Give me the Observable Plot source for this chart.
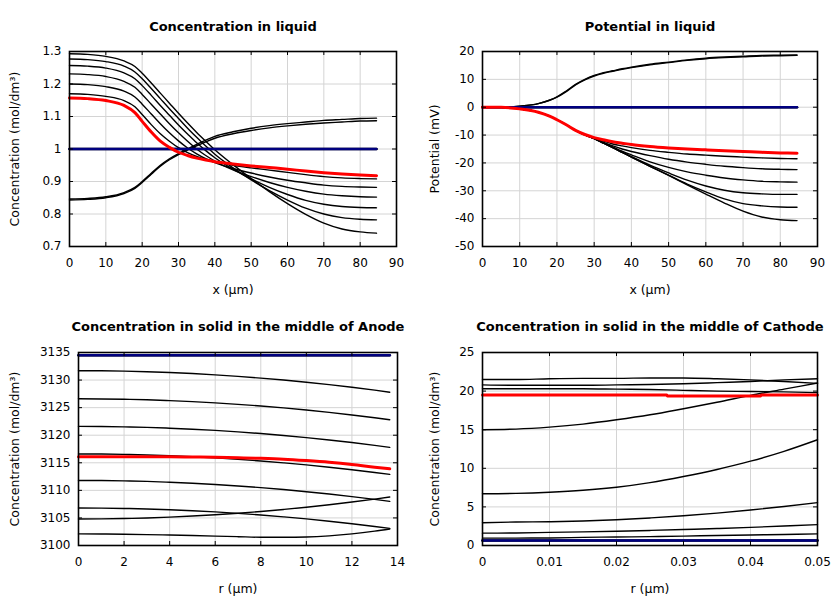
<!DOCTYPE html>
<html><head><meta charset="utf-8">
<script src="https://cdn.jsdelivr.net/npm/d3@7"></script>
<script src="https://cdn.jsdelivr.net/npm/@observablehq/plot@0.6"></script>
<style>
body{margin:0;background:#fff;}
#wrap{position:relative;width:840px;height:600px;overflow:hidden;}
#wrap svg{position:absolute;}
</style></head><body><div id="wrap"></div>
<script>
// ---------- Panel 1: Concentration in liquid ----------
const liqX = [0,5,10,15,18,20,22.5,25,27.5,30,32.5,35,37.5,40,45,50,55,60,65,70,75,80,84.5];
const liqRed = [1.157,1.155,1.149,1.134,1.112,1.085,1.052,1.024,1.005,0.990,0.980,0.972,0.966,0.961,0.954,0.948,0.943,0.938,0.932,0.927,0.923,0.920,0.918];
const liqBlack = [
  [1.170,1.168,1.162,1.149,1.130,1.106,1.075,1.047,1.024,1.004,0.989,0.977,0.968,0.961,0.950,0.942,0.935,0.928,0.921,0.915,0.911,0.909,0.908],
  [1.200,1.198,1.192,1.178,1.160,1.138,1.108,1.078,1.050,1.025,1.003,0.985,0.970,0.958,0.940,0.926,0.914,0.904,0.896,0.889,0.885,0.883,0.882],
  [1.231,1.229,1.223,1.208,1.190,1.168,1.138,1.108,1.078,1.050,1.024,1.000,0.980,0.963,0.936,0.915,0.897,0.882,0.870,0.861,0.856,0.853,0.852],
  [1.257,1.255,1.249,1.234,1.216,1.195,1.165,1.134,1.104,1.074,1.046,1.019,0.995,0.973,0.938,0.908,0.882,0.860,0.842,0.830,0.823,0.820,0.819],
  [1.277,1.275,1.269,1.255,1.237,1.216,1.186,1.155,1.124,1.094,1.064,1.036,1.009,0.984,0.942,0.905,0.872,0.843,0.818,0.800,0.789,0.784,0.782],
  [1.293,1.291,1.285,1.271,1.254,1.233,1.203,1.172,1.141,1.110,1.080,1.051,1.024,0.998,0.952,0.909,0.869,0.832,0.799,0.772,0.754,0.745,0.741],
  [0.846,0.848,0.853,0.866,0.882,0.900,0.925,0.950,0.970,0.986,1.000,1.014,1.027,1.039,1.053,1.064,1.072,1.078,1.083,1.088,1.091,1.094,1.095],
  [0.843,0.845,0.850,0.863,0.879,0.897,0.922,0.947,0.967,0.983,0.997,1.010,1.022,1.033,1.047,1.057,1.065,1.071,1.076,1.080,1.083,1.086,1.087]
];
const liqFlatX = [0, 84.5];
const liqFlat = [1.0, 1.0];
const liqXTicks = [0,10,20,30,40,50,60,70,80,90];
const liqYTicks = [0.7,0.8,0.9,1,1.1,1.2,1.3];

// ---------- Panel 2: Potential in liquid ----------
const potX = liqX;
const potRed = [0,-0.05,-0.6,-1.8,-3.2,-4.5,-6.3,-8.3,-9.8,-10.9,-11.7,-12.4,-12.9,-13.4,-14.1,-14.6,-15.0,-15.3,-15.6,-15.9,-16.2,-16.4,-16.5];
const potBlack = [
  [0,-0.05,-0.6,-1.8,-3.2,-4.5,-6.3,-8.3,-9.9,-11.0,-12.2,-13.2,-13.9,-14.5,-15.5,-16.2,-16.8,-17.2,-17.6,-17.9,-18.2,-18.4,-18.5],
  [0,-0.05,-0.6,-1.8,-3.2,-4.5,-6.3,-8.3,-9.9,-11.1,-12.6,-13.9,-15.0,-15.9,-17.4,-18.7,-19.7,-20.5,-21.2,-21.7,-22.1,-22.3,-22.4],
  [0,-0.05,-0.6,-1.8,-3.2,-4.5,-6.3,-8.3,-9.9,-11.2,-12.8,-14.3,-15.8,-17.1,-19.6,-21.6,-23.2,-24.4,-25.4,-26.1,-26.6,-26.8,-26.9],
  [0,-0.05,-0.6,-1.8,-3.2,-4.5,-6.3,-8.3,-9.9,-11.3,-12.9,-14.5,-16.1,-17.7,-20.8,-23.6,-26.2,-28.3,-29.8,-30.7,-31.1,-31.3,-31.3],
  [0,-0.05,-0.6,-1.8,-3.2,-4.5,-6.3,-8.3,-9.9,-11.3,-12.9,-14.5,-16.2,-17.9,-21.2,-24.4,-27.6,-30.4,-32.9,-34.6,-35.4,-35.8,-35.9],
  [0,-0.05,-0.6,-1.8,-3.2,-4.5,-6.3,-8.3,-9.9,-11.3,-12.9,-14.5,-16.2,-17.9,-21.2,-24.5,-27.9,-31.2,-34.4,-37.3,-39.4,-40.4,-40.7],
  [0,0.05,0.4,1.3,2.5,3.7,5.8,8.2,10.0,11.4,12.4,13.1,13.8,14.4,15.4,16.2,17.0,17.6,18.0,18.3,18.6,18.7,18.8],
  [0,0.05,0.4,1.3,2.5,3.6,5.6,8.0,9.8,11.2,12.2,12.9,13.6,14.2,15.2,16.0,16.8,17.4,17.8,18.1,18.4,18.5,18.6]
];
const potFlatX = [0, 84.5];
const potFlat = [0, 0];
const potXTicks = [0,10,20,30,40,50,60,70,80,90];
const potYTicks = [-50,-40,-30,-20,-10,0,10,20];

// ---------- Panel 3: Concentration in solid, Anode ----------
const anoX = [0,1,2,3,4,5,6,7,8,9,10,11,12,13,13.66];
const anoRed = [3116.1,3116.1,3116.1,3116.1,3116.1,3116.05,3116.0,3115.9,3115.8,3115.65,3115.4,3115.1,3114.7,3114.2,3113.9];
const anoBlack = [
  [3131.7,3131.68,3131.62,3131.51,3131.37,3131.18,3130.95,3130.67,3130.36,3130.01,3129.61,3129.17,3128.69,3128.17,3127.8],
  [3126.6,3126.58,3126.52,3126.42,3126.27,3126.09,3125.87,3125.6,3125.3,3124.95,3124.56,3124.14,3123.67,3123.16,3122.8],
  [3121.6,3121.58,3121.52,3121.42,3121.27,3121.09,3120.87,3120.6,3120.3,3119.95,3119.56,3119.14,3118.67,3118.16,3117.8],
  [3116.6,3116.58,3116.52,3116.42,3116.28,3116.1,3115.89,3115.63,3115.33,3114.99,3114.62,3114.2,3113.74,3113.25,3112.9],
  [3111.8,3111.78,3111.72,3111.62,3111.47,3111.29,3111.07,3110.8,3110.5,3110.15,3109.76,3109.34,3108.87,3108.36,3108.0],
  [3106.8,3106.78,3106.72,3106.62,3106.48,3106.3,3106.09,3105.83,3105.53,3105.19,3104.82,3104.4,3103.94,3103.45,3103.1],
  [3104.8,3104.82,3104.89,3104.99,3105.14,3105.34,3105.57,3105.85,3106.17,3106.54,3106.94,3107.39,3107.89,3108.42,3108.8],
  [3102.1,3102.08,3102.05,3101.98,3101.9,3101.8,3101.7,3101.6,3101.5,3101.5,3101.55,3101.75,3102.1,3102.6,3103.0]
];
const anoFlatX = [0, 13.66];
const anoFlat = [3134.5, 3134.5];
const anoXTicks = [0,2,4,6,8,10,12,14];
const anoYTicks = [3100,3105,3110,3115,3120,3125,3130,3135];

// ---------- Panel 4: Concentration in solid, Cathode ----------
const catX = [0,0.005,0.01,0.015,0.02,0.025,0.03,0.035,0.04,0.045,0.05];
const catBlack = [
  [21.5,21.5,21.6,21.65,21.65,21.7,21.7,21.6,21.45,21.25,21.0],
  [20.8,20.75,20.75,20.75,20.8,20.85,20.95,21.1,21.25,21.45,21.6],
  [20.3,20.3,20.3,20.3,20.25,20.2,20.1,20.0,19.95,19.9,19.8],
  [15.0,15.08,15.33,15.72,16.28,16.93,17.72,18.55,19.45,20.25,21.05],
  [6.7,6.75,6.9,7.15,7.55,8.15,8.94,9.85,10.92,12.2,13.7],
  [2.95,3.05,3.08,3.17,3.33,3.57,3.85,4.2,4.6,5.05,5.55],
  [1.6,1.62,1.7,1.76,1.85,1.95,2.07,2.2,2.35,2.52,2.7],
  [0.95,0.96,0.98,1.05,1.1,1.15,1.22,1.29,1.36,1.43,1.51]
];
const catRedX = [0,0.0275,0.0276,0.0415,0.0416,0.05];
const catRed = [19.5,19.5,19.35,19.35,19.5,19.5];
const catFlatX = [0, 0.05];
const catFlat = [0.65, 0.65];
const catXTicks = [0,0.01,0.02,0.03,0.04,0.05];
const catYTicks = [0,5,10,15,20,25];

// ---------- helpers ----------
const GRID = "#d4d4d4";
const fmt = d => String(d);
function rows(xs, ys, id) { return xs.map((x, i) => ({x, y: ys[i], id})); }

function panel(cfg) {
  const W = 420, H = 300;
  const fw = W - cfg.mL - cfg.mR, fh = H - cfg.mT - cfg.mB;
  const blackRows = cfg.black.flatMap((ys, k) => rows(cfg.xs, ys, k));
  const flatRows = rows(cfg.flatX, cfg.flat, "flat");
  const redRows = rows(cfg.redX, cfg.red, "red");
  const svg = Plot.plot({
    width: W, height: H,
    marginLeft: cfg.mL, marginRight: cfg.mR, marginTop: cfg.mT, marginBottom: cfg.mB,
    x: {domain: cfg.xDom}, y: {domain: cfg.yDom},
    style: {fontFamily: "DejaVu Sans", fontSize: "12px", color: "black", background: "white"},
    marks: [
      Plot.ruleX(cfg.xTicks, {x: d => d, stroke: GRID, strokeWidth: 1}),
      Plot.ruleY(cfg.yTicks, {y: d => d, stroke: GRID, strokeWidth: 1}),
      Plot.line(flatRows, {x: "x", y: "y", stroke: "black", strokeWidth: 2.6}),
      Plot.line(blackRows, {x: "x", y: "y", z: "id", stroke: "black", strokeWidth: 1.4, curve: cfg.curve}),
      Plot.line(flatRows, {x: "x", y: "y", stroke: "#00007f", strokeWidth: 2.4}),
      Plot.line(redRows, {x: "x", y: "y", stroke: "#ff0000", strokeWidth: 3, curve: cfg.redCurve}),
      Plot.tickX(cfg.xTicks, {x: d => d, insetTop: fh - 4, stroke: "black"}),
      Plot.tickX(cfg.xTicks, {x: d => d, insetBottom: fh - 4, stroke: "black"}),
      Plot.tickY(cfg.yTicks, {y: d => d, insetRight: fw - 4, stroke: "black"}),
      Plot.tickY(cfg.yTicks, {y: d => d, insetLeft: fw - 4, stroke: "black"}),
      Plot.frame({stroke: "black", strokeWidth: 1.6}),
      Plot.axisX({ticks: cfg.xTicks, tickSize: 0, tickPadding: 12, tickFormat: fmt, label: null}),
      Plot.axisY({ticks: cfg.yTicks, tickSize: 0, tickPadding: 8, tickFormat: fmt, label: null}),
      Plot.text([cfg.title], {text: d => d, frameAnchor: "top", lineAnchor: "middle", textAnchor: "middle", dy: cfg.titleDy, fontWeight: "bold", fontSize: 13}),
      Plot.text([cfg.xLabel], {text: d => d, frameAnchor: "bottom", lineAnchor: "middle", textAnchor: "middle", dy: 43, fontSize: 12.5}),
      Plot.text([cfg.yLabel], {text: d => d, frameAnchor: "left", lineAnchor: "middle", textAnchor: "middle", dx: 14 - cfg.mL, rotate: -90, fontSize: 12.5})
    ]
  });
  svg.style.left = cfg.left + "px";
  svg.style.top = cfg.top + "px";
  document.getElementById("wrap").appendChild(svg);
}

const concLabel = "Concentration (mol/dm³)";

panel({left: 0, top: 0, mL: 69, mR: 24, mT: 51, mB: 54,
  xDom: [0, 90], yDom: [0.7, 1.3], xTicks: liqXTicks, yTicks: liqYTicks,
  xs: liqX, black: liqBlack, redX: liqX, red: liqRed, flatX: liqFlatX, flat: liqFlat,
  curve: "monotone-x", redCurve: "monotone-x",
  title: "Concentration in liquid", titleDy: -25, xLabel: "x (μm)", yLabel: concLabel});

panel({left: 420, top: 0, mL: 62, mR: 23, mT: 51, mB: 54,
  xDom: [0, 90], yDom: [-50, 20], xTicks: potXTicks, yTicks: potYTicks,
  xs: potX, black: potBlack, redX: potX, red: potRed, flatX: potFlatX, flat: potFlat,
  curve: "monotone-x", redCurve: "monotone-x",
  title: "Potential in liquid", titleDy: -25, xLabel: "x (μm)", yLabel: "Potential (mV)"});

panel({left: 0, top: 300, mL: 78, mR: 23, mT: 52, mB: 55,
  xDom: [0, 14], yDom: [3100, 3135], xTicks: anoXTicks, yTicks: anoYTicks,
  xs: anoX, black: anoBlack, redX: anoX, red: anoRed, flatX: anoFlatX, flat: anoFlat,
  curve: "monotone-x", redCurve: "monotone-x",
  title: "Concentration in solid in the middle of Anode", titleDy: -26, xLabel: "r (μm)", yLabel: concLabel});

panel({left: 420, top: 300, mL: 62, mR: 23, mT: 52, mB: 55,
  xDom: [0, 0.05], yDom: [0, 25], xTicks: catXTicks, yTicks: catYTicks,
  xs: catX, black: catBlack, redX: catRedX, red: catRed, flatX: catFlatX, flat: catFlat,
  curve: "monotone-x", redCurve: "linear",
  title: "Concentration in solid in the middle of Cathode", titleDy: -26, xLabel: "r (μm)", yLabel: concLabel});
</script></body></html>
